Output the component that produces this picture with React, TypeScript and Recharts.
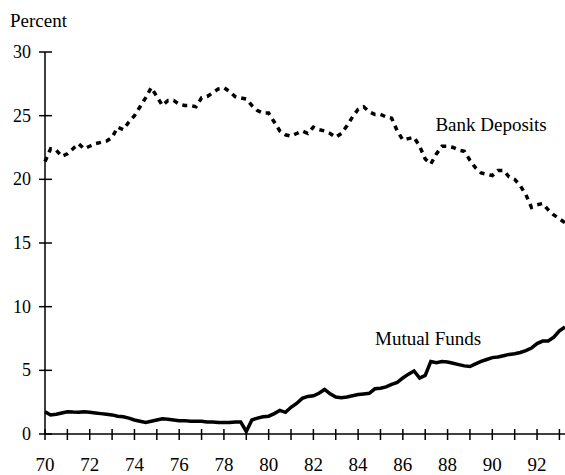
import { LineChart, Line, XAxis, YAxis, ReferenceDot } from 'recharts'

// quarterly observations, 1970 Q1 .. 1993 Q2
const years = [
  70, 70.25, 70.5, 70.75, 71, 71.25, 71.5, 71.75, 72, 72.25, 72.5, 72.75,
  73, 73.25, 73.5, 73.75, 74, 74.25, 74.5, 74.75, 75, 75.25, 75.5, 75.75,
  76, 76.25, 76.5, 76.75, 77, 77.25, 77.5, 77.75, 78, 78.25, 78.5, 78.75,
  79, 79.25, 79.5, 79.75, 80, 80.25, 80.5, 80.75, 81, 81.25, 81.5, 81.75,
  82, 82.25, 82.5, 82.75, 83, 83.25, 83.5, 83.75, 84, 84.25, 84.5, 84.75,
  85, 85.25, 85.5, 85.75, 86, 86.25, 86.5, 86.75, 87, 87.25, 87.5, 87.75,
  88, 88.25, 88.5, 88.75, 89, 89.25, 89.5, 89.75, 90, 90.25, 90.5, 90.75,
  91, 91.25, 91.5, 91.75, 92, 92.25, 92.5, 92.75, 93, 93.25,
]

const bankDeposits = [
  21.4, 22.4, 22.3, 21.8, 22.0, 22.4, 22.8, 22.4, 22.6, 22.8, 22.9, 23.0,
  23.3, 24.1, 23.9, 24.5, 25.0, 25.7, 26.4, 27.2, 26.5, 25.8, 26.2, 26.2,
  25.9, 25.8, 25.8, 25.7, 26.4, 26.5, 26.8, 27.1, 27.2, 26.9, 26.5, 26.4,
  26.3, 25.8, 25.4, 25.2, 25.2, 24.5, 23.8, 23.5, 23.4, 23.6, 23.8, 23.6,
  24.1, 23.9, 23.8, 23.6, 23.3, 23.6, 24.2, 24.9, 25.5, 25.7, 25.3, 25.1,
  25.1, 24.9, 24.8, 23.8, 23.1, 23.2, 23.3, 22.6, 21.6, 21.2, 22.0, 22.6,
  22.6, 22.5, 22.3, 22.2, 21.5, 20.9, 20.5, 20.4, 20.3, 20.7, 20.7, 20.2,
  20.0, 19.5, 18.8, 17.8, 18.0, 18.1, 17.6, 17.2, 16.9, 16.6,
]

const mutualFunds = [
  1.75, 1.5, 1.55, 1.65, 1.75, 1.72, 1.7, 1.75, 1.7, 1.65, 1.6, 1.55,
  1.5, 1.4, 1.35, 1.25, 1.1, 1.0, 0.9, 1.0, 1.1, 1.2, 1.15, 1.1,
  1.05, 1.05, 1.0, 1.0, 1.0, 0.95, 0.95, 0.9, 0.9, 0.9, 0.95, 0.95,
  0.2, 1.1, 1.25, 1.35, 1.4, 1.6, 1.85, 1.7, 2.1, 2.4, 2.8, 2.95,
  3.0, 3.2, 3.5, 3.15, 2.9, 2.85, 2.9, 3.0, 3.1, 3.15, 3.2, 3.55,
  3.6, 3.7, 3.9, 4.05, 4.4, 4.7, 4.95, 4.4, 4.6, 5.7, 5.6, 5.7,
  5.65, 5.55, 5.45, 5.35, 5.3, 5.5, 5.7, 5.85, 6.0, 6.05, 6.15, 6.25,
  6.3, 6.4, 6.55, 6.75, 7.1, 7.3, 7.3, 7.6, 8.1, 8.4,
]

const yTicks = [0, 5, 10, 15, 20, 25, 30]
const xTicks = [70, 71, 72, 73, 74, 75, 76, 77, 78, 79, 80, 81, 82, 83, 84, 85, 86, 87, 88, 89, 90, 91, 92, 93]

const FONT = '"Liberation Serif", "Times New Roman", serif'

const data = years.map((year, i) => ({
  year,
  bank: bankDeposits[i],
  funds: mutualFunds[i],
}))

const YTick = ({ x, y, payload }: any) => (
  <g>
    <line x1={x - 6} x2={x + 7} y1={y} y2={y} stroke="#000" strokeWidth={1.5} />
    <text x={x - 14} y={y} textAnchor="end" dominantBaseline="central" fontFamily={FONT} fontSize={18} fill="#000">
      {payload.value}
    </text>
  </g>
)

const XTick = ({ x, y, payload }: any) => (
  <g>
    <line x1={x} x2={x} y1={y - 5} y2={y + 6} stroke="#000" strokeWidth={1.5} />
    {payload.value % 2 === 0 && (
      <text x={x} y={y + 37} textAnchor="middle" fontFamily={FONT} fontSize={19} fill="#000">
        {payload.value}
      </text>
    )}
  </g>
)

const seriesLabel = (text: string) => ({ viewBox }: any) => (
  <text x={viewBox.x} y={viewBox.y} fontFamily={FONT} fontSize={19} fill="#000">
    {text}
  </text>
)

export default function App() {
  return (
    <div style={{ width: 565, height: 475, background: '#fff' }}>
      <style>{'body{margin:0}'}</style>
      <LineChart width={565} height={475} data={data} margin={{ top: 52, right: 0, bottom: 0, left: 0 }}>
        <XAxis
          dataKey="year"
          type="number"
          domain={[70, 93.25]}
          ticks={xTicks}
          interval={0}
          height={41}
          tickSize={0}
          tickMargin={0}
          tickLine={false}
          tick={<XTick />}
          axisLine={{ stroke: '#000', strokeWidth: 1.5 }}
        />
        <YAxis
          type="number"
          domain={[0, 30]}
          ticks={yTicks}
          width={45}
          tickSize={0}
          tickMargin={0}
          tickLine={false}
          tick={<YTick />}
          axisLine={{ stroke: '#000', strokeWidth: 1.5 }}
          label={{
            content: ({ viewBox }: any) => (
              <text x={viewBox.x + 10} y={viewBox.y - 25} fontFamily={FONT} fontSize={19} fill="#000">
                Percent
              </text>
            ),
          }}
        />
        <Line
          dataKey="bank"
          stroke="#000"
          strokeWidth={3.5}
          strokeDasharray="5 5"
          dot={false}
          isAnimationActive={false}
        />
        <Line dataKey="funds" stroke="#000" strokeWidth={3.5} dot={false} isAnimationActive={false} />
        <ReferenceDot x={87.5} y={23.7} r={1} fill="none" stroke="none" label={{ content: seriesLabel('Bank Deposits') }} />
        <ReferenceDot x={84.8} y={6.9} r={1} fill="none" stroke="none" label={{ content: seriesLabel('Mutual Funds') }} />
      </LineChart>
    </div>
  )
}
